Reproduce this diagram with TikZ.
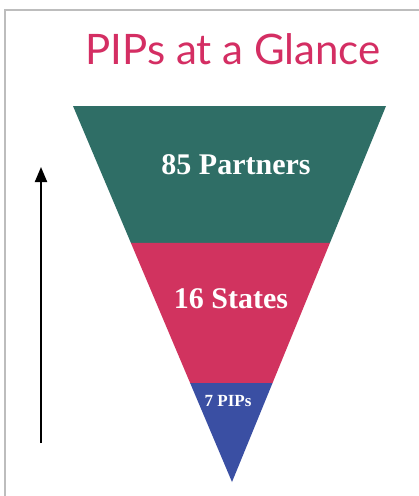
\documentclass[tikz,border=0pt]{standalone}
\usepackage{fontspec}
\setmainfont{Liberation Serif}
\newfontfamily\titlefont{Lato}
\usepackage{xcolor}
\definecolor{pipframe}{HTML}{BDBDBD}
\definecolor{piptitle}{HTML}{D42E63}
\definecolor{pipteal}{HTML}{2F6E66}
\definecolor{pippink}{HTML}{D1335F}
\definecolor{pipblue}{HTML}{3A4FA3}
\usepackage{tikz}
\usetikzlibrary{arrows.meta,positioning,calc}

\tikzset{
  bandlabel/.style={text=white,font=\bfseries,inner sep=0pt},
  band/.style={draw=none}
}

\begin{document}
\begin{tikzpicture}[x=1pt,y=-1pt]
\useasboundingbox[fill=white] (0,0) rectangle (419,496);
% frame: top and left only
\draw[pipframe,line width=1.5pt] (5,496) -- (5,10) -- (419,10);
\node[font=\titlefont\fontsize{42}{46}\selectfont,text=piptitle] (title) at (233,49) {PIPs at a Glance};

% funnel corners
\coordinate (tl) at (73,106);
\coordinate (tr) at (386,106);
\coordinate (apex) at (232,482);
\coordinate (ml) at ($(tl)!0.364!(apex)$);
\coordinate (mr) at ($(tr)!0.364!(apex)$);
\coordinate (ll) at ($(tl)!0.737!(apex)$);
\coordinate (lr) at ($(tr)!0.737!(apex)$);
\fill[band,pipteal] (tl) -- (tr) -- (mr) -- (ml) -- cycle;
\fill[band,pippink] (ml) -- (mr) -- (lr) -- (ll) -- cycle;
\fill[band,pipblue] (ll) -- (lr) -- (apex) -- cycle;

\node[bandlabel,font=\bfseries\fontsize{30}{33}\selectfont] (partners) at (236,165) {85 Partners};
\node[bandlabel,font=\bfseries\fontsize{30}{33}\selectfont] (states) at (231,299) {16 States};
\node[bandlabel,font=\bfseries\fontsize{17}{19}\selectfont] (pips) at (228,401) {7 PIPs};

% growth arrow
\coordinate (arrowlow) at (41,443);
\coordinate (arrowhigh) at (41,167);
\draw[line width=2pt,-{Triangle[length=15pt,width=12pt]}] (arrowlow) -- (arrowhigh);
\end{tikzpicture}
\end{document}
